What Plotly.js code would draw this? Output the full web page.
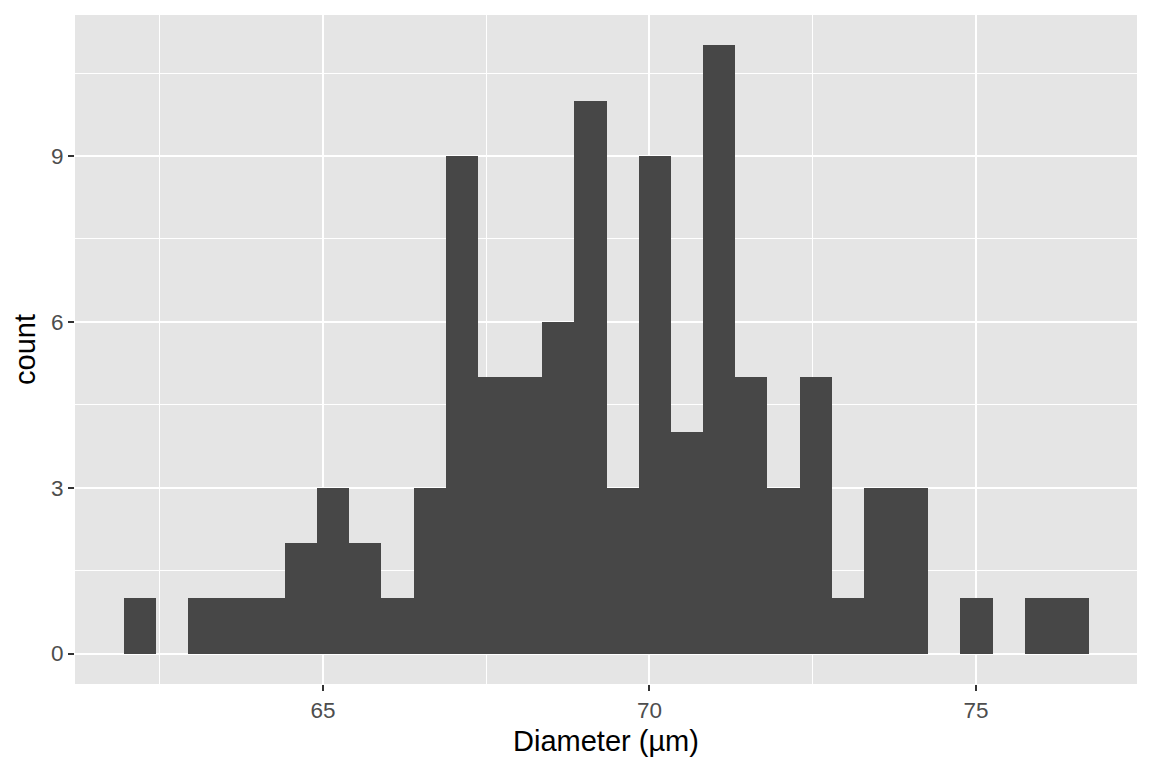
<!DOCTYPE html>
<html>
<head>
<meta charset="utf-8">
<script src="https://cdn.plot.ly/plotly-3.0.1.min.js"></script>
<style>html,body{margin:0;padding:0;background:#fff;}#chart{width:1152px;height:768px;}</style>
</head>
<body>
<div id="chart"></div>
<script>
// Histogram bins (centres, in µm) and counts
const binCenters = [62.199, 62.692, 63.185, 63.677, 64.170, 64.662, 65.155, 65.648, 66.140, 66.633,
                    67.125, 67.618, 68.111, 68.603, 69.096, 69.588, 70.081, 70.574, 71.066, 71.559,
                    72.051, 72.544, 73.037, 73.529, 74.022, 74.514, 75.007, 75.500, 75.992, 76.485];
const counts = [1, 0, 1, 1, 1, 2, 3, 2, 1, 3,
                9, 5, 5, 6, 10, 3, 9, 4, 11, 5,
                3, 5, 1, 3, 3, 0, 1, 0, 1, 1];
const binWidth = 0.4926;
const xTickVals = [65, 70, 75];
const yTickVals = [0, 3, 6, 9];

const trace = {
  type: 'bar',
  x: binCenters,
  y: counts,
  width: binCenters.map(() => binWidth),
  marker: {color: '#474747', line: {width: 0}},
  hoverinfo: 'x+y'
};

const layout = {
  width: 1152, height: 768,
  margin: {l: 75, r: 15, t: 15, b: 84},
  paper_bgcolor: '#FFFFFF',
  plot_bgcolor: '#E5E5E5',
  bargap: 0,
  showlegend: false,
  font: {family: 'Liberation Sans, Arial, sans-serif'},
  xaxis: {
    range: [61.202, 77.466],
    tickmode: 'array', tickvals: xTickVals, ticktext: xTickVals.map(String),
    ticks: 'outside', ticklen: 6, tickwidth: 2, tickcolor: '#333333',
    tickfont: {size: 22.5, color: '#4D4D4D'},
    showgrid: true, gridcolor: '#FFFFFF', gridwidth: 2,
    minor: {tickmode: 'array', tickvals: [62.5, 67.5, 72.5, 77.5], showgrid: true, gridcolor: '#FFFFFF', gridwidth: 1, ticks: ''},
    zeroline: false, showline: false,
    title: {text: 'Diameter (µm)', font: {size: 29, color: '#000000'}, standoff: 8},
    automargin: false
  },
  yaxis: {
    range: [-0.55, 11.55],
    tickmode: 'array', tickvals: yTickVals, ticktext: yTickVals.map(String),
    ticks: 'outside', ticklen: 6, tickwidth: 2, tickcolor: '#333333',
    tickfont: {size: 22.5, color: '#4D4D4D'},
    showgrid: true, gridcolor: '#FFFFFF', gridwidth: 2,
    minor: {tickmode: 'array', tickvals: [1.5, 4.5, 7.5, 10.5], showgrid: true, gridcolor: '#FFFFFF', gridwidth: 1, ticks: ''},
    zeroline: false, showline: false,
    title: {text: 'count', font: {size: 29, color: '#000000'}, standoff: 6},
    automargin: false
  }
};

Plotly.newPlot('chart', [trace], layout, {staticPlot: true, displayModeBar: false});
</script>
</body>
</html>
